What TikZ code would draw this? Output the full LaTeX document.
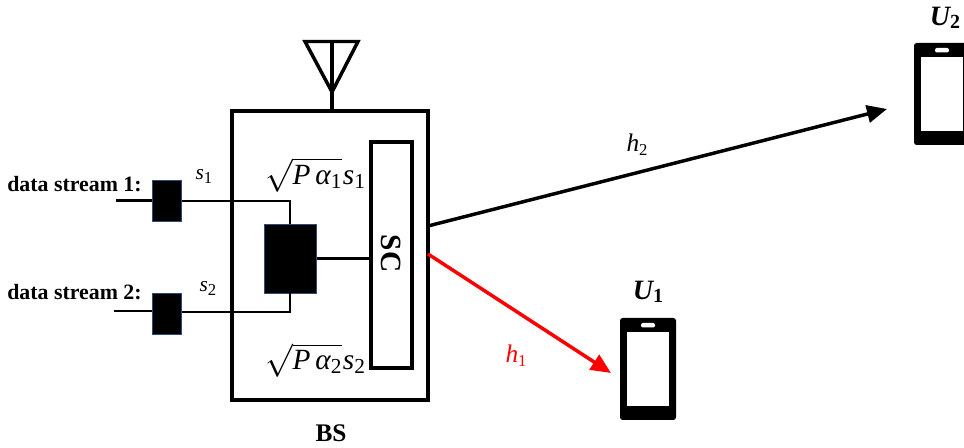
\documentclass[tikz,border=0pt]{standalone}
\usepackage{fontspec}
\setmainfont{Liberation Serif}
\usetikzlibrary{arrows.meta}
\definecolor{blkedge}{HTML}{2F4B7C}
\tikzset{
  frame/.style={draw=black,line width=2.7pt,fill=none,inner sep=0pt,outer sep=0pt},
  blk/.style={draw=blkedge,line width=0.7pt,fill=black,inner sep=0pt,outer sep=0pt},
  wire/.style={line width=1.6pt,line join=miter},
  thick wire/.style={line width=2.4pt},
  lbl/.style={inner sep=0pt,font=\fontsize{16.4}{18}\selectfont\bfseries,anchor=west},
  sym/.style={inner sep=0pt,font=\fontsize{16}{20}\selectfont},
  power/.style={inner sep=0pt,font=\fontsize{24}{26}\selectfont},
  link/.style={line width=2.6pt,-{Triangle[length=15pt,width=13pt]}},
}
\newcommand{\phone}[2]{% left, top
  \fill[black,rounded corners=2pt] (#1,#2) rectangle ++(56,102);
  \fill[white] (#1+7,#2+14) rectangle ++(42,74);
  \fill[white,rounded corners=1.5pt] (#1+21,#2+5) rectangle ++(14,4.5);
}
\newcommand{\symb}[2]{{\itshape #1}\raisebox{-3pt}{\fontsize{12.5}{14}\selectfont #2}}
\newcommand{\powersym}[1]{$\sqrt{\mbox{\itshape\fontsize{22}{24}\selectfont P\,α\raisebox{-3pt}{\upshape\fontsize{16}{18}\selectfont #1}}}$\kern1pt{\fontsize{22}{24}\selectfont\itshape s\raisebox{-3pt}{\upshape\fontsize{16}{18}\selectfont #1}}}
\begin{document}
\begin{tikzpicture}[x=0.75pt,y=-0.75pt]
\useasboundingbox (0,0) rectangle (964,448);
\clip (0,0) rectangle (964,448);
% base station and SC box
\node[frame,minimum width=147pt,minimum height=216.75pt] (bs) at (330,255.5) {};
\node[frame,minimum width=30.75pt,minimum height=169.5pt] (sc) at (391.5,255) {};
\node[rotate=-90,inner sep=0pt,font=\fontsize{22}{24}\selectfont\bfseries] (sclabel) at (391,253.5) {SC};
% blocks
\node[blk,minimum width=22pt,minimum height=30.75pt] (b1) at (167,200.5) {};
\node[blk,minimum width=22pt,minimum height=30.75pt] (b2) at (167,313.5) {};
\node[blk,minimum width=39.5pt,minimum height=51.75pt] (mix) at (290.5,258.5) {};
% antenna
\coordinate (al) at (305,41.5);
\coordinate (ar) at (358,41.5);
\coordinate (apex) at (332,92);
\coordinate (atop) at (332,41.5);
\draw[line width=2.6pt,line join=miter] (al) -- (ar) -- (apex) -- cycle;
\draw[line width=2.6pt] (atop) -- (bs.north -| atop);
% wires
\coordinate (in1) at (116,200.5);
\coordinate (in2) at (114,311);
\coordinate (w1) at (290,201);
\coordinate (w2) at (290,312);
\draw[wire] (in1) -- (b1.west |- in1);
\draw[wire] (in2) -- (b2.west |- in2);
\draw[wire] (b1.east |- w1) -- (w1) -- (mix.north -| w1);
\draw[wire] (b2.east |- w2) -- (w2) -- (mix.south -| w2);
\draw[thick wire] (mix.east) -- (mix.east -| sc.west);
% links
\coordinate (t2) at (887,109);
\coordinate (t1) at (611,373);
\coordinate (s2) at (428,226);
\coordinate (s1) at (428,254);
\draw[link,black] (s2) -- (t2);
\draw[link,red] (s1) -- (t1);
% phones
\phone{620}{318}
\phone{914}{43}
% labels
\node[lbl] (d1) at (7,184) {data stream 1:};
\node[lbl] (d2) at (7,292) {data stream 2:};
\node[sym] (s1l) at (204,176) {\symb{s}{1}};
\node[sym] (s2l) at (208,288) {\symb{s}{2}};
\node[power] (m1) at (315,175) {\powersym{1}};
\node[power] (m2) at (315,360.5) {\powersym{2}};
\node[inner sep=0pt,font=\fontsize{19}{20}\selectfont\bfseries] (bsl) at (331,433) {BS};
\node[sym,font=\fontsize{19}{20}\selectfont] (h2) at (637,145) {\symb{h}{2}};
\node[sym,font=\fontsize{19}{20}\selectfont,text=red] (h1) at (516,356) {\symb{h}{1}};
\node[inner sep=0pt,font=\fontsize{21}{22}\selectfont\bfseries\itshape] (u1l) at (648,292) {U\raisebox{-2pt}{\fontsize{15}{16}\selectfont\upshape 1}};
\node[inner sep=0pt,font=\fontsize{21}{22}\selectfont\bfseries\itshape] (u2l) at (945,18) {U\raisebox{-2pt}{\fontsize{15}{16}\selectfont\upshape 2}};
\end{tikzpicture}
\end{document}
